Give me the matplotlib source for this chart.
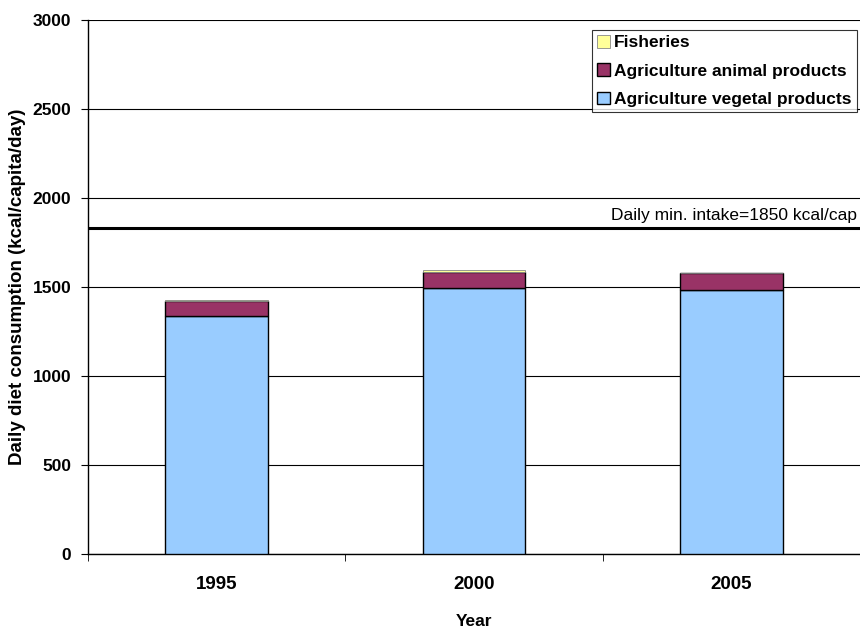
import matplotlib
matplotlib.use('Agg')
from matplotlib import pyplot as plt
import numpy as np

plt.rcParams['font.family'] = ['Liberation Sans', 'DejaVu Sans']

years = ['1995', '2000', '2005']
vegetal = [1339, 1496, 1483]
animal = [84, 90, 94]
fisheries = [2, 8, 3]
min_intake = 1830  # drawn position of the reference line
min_label = 'Daily min. intake=1850 kcal/cap'

fig = plt.figure(figsize=(8.6, 6.28), dpi=100)
ax = fig.add_axes([88 / 860, 1 - 554 / 628, 772 / 860, 534 / 628])

x = np.arange(len(years))
w = 0.4
b1 = ax.bar(x, vegetal, w, color='#99ccff', edgecolor='black', linewidth=1,
            label='Agriculture vegetal products', zorder=3)
b2 = ax.bar(x, animal, w, bottom=vegetal, color='#993366', edgecolor='black',
            linewidth=1, label='Agriculture animal products', zorder=3)
bottoms = [v + a for v, a in zip(vegetal, animal)]
b3 = ax.bar(x, fisheries, w, bottom=bottoms, color='#ffff99', edgecolor='#888888',
            linewidth=0.6, label='Fisheries', zorder=3)

ax.axhline(min_intake, color='black', linewidth=2.2, zorder=4)
ax.text(0.996, min_intake + 30, min_label, transform=ax.get_yaxis_transform(),
        ha='right', va='bottom', fontsize=12.5, zorder=5)

ax.set_xlim(-0.5, 2.5)
ax.set_ylim(0, 3000)
ax.set_yticks(range(0, 3001, 500))
ax.yaxis.grid(True, color='black', linewidth=0.8, zorder=0)
ax.set_xticks(x)
ax.set_xticklabels(years, fontsize=13.5, fontweight='bold')
ax.set_xticks([-0.5, 0.5, 1.5, 2.5], minor=True)
ax.tick_params(axis='x', which='major', length=0, pad=16)
ax.tick_params(axis='x', which='minor', length=5, direction='out')
ax.tick_params(axis='y', length=5, direction='out', labelsize=12.5, pad=7)
for lab in ax.get_yticklabels():
    lab.set_fontweight('bold')

ax.spines['right'].set_visible(False)
ax.spines['top'].set_visible(False)
ax.spines['left'].set_linewidth(1)
ax.spines['bottom'].set_linewidth(1)

ax.set_xlabel('Year', fontsize=12.5, fontweight='bold', labelpad=15)
ax.set_ylabel('Daily diet consumption (kcal/capita/day)', fontsize=13.5,
              fontweight='bold', va='center')
ax.yaxis.set_label_coords(-70 / 772, 0.5)

leg = ax.legend(handles=[b3, b2, b1], loc='upper right', bbox_to_anchor=(0.996, 0.982),
                prop={'weight': 'bold', 'size': 12.5}, frameon=True, fancybox=False,
                handlelength=0.75, handleheight=0.75, handletextpad=0.25,
                borderpad=0.3, labelspacing=0.75, borderaxespad=0)
leg.get_frame().set_edgecolor('black')
leg.get_frame().set_linewidth(0.8)
leg.set_zorder(6)

fig.savefig('out.png', dpi=100)
plt.close()
